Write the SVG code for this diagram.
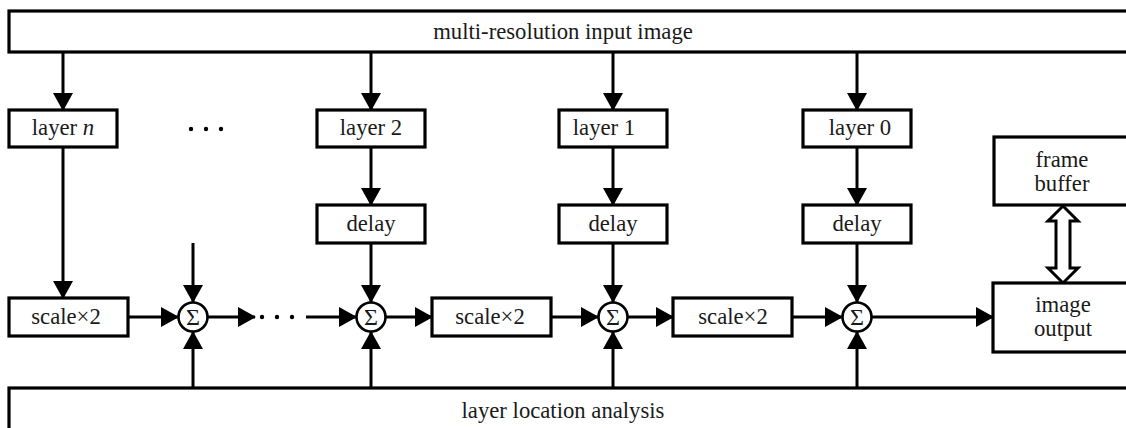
<svg xmlns="http://www.w3.org/2000/svg" width="1126" height="428" viewBox="0 0 1126 428">
<style>
.box{fill:#fff;stroke:#000;stroke-width:3.2}
.sum{fill:#fff;stroke:#000;stroke-width:2.6}
.ln{fill:none;stroke:#000;stroke-width:3}
.t{font-family:'Liberation Serif','Times New Roman',serif;font-size:22.7px;fill:#1a1a1a;text-anchor:middle}
.s{font-family:'Liberation Serif','Times New Roman',serif;font-size:24px;fill:#1a1a1a;text-anchor:middle}
.dot{fill:#000}
</style>
<defs>
<marker id="ah" viewBox="0 0 18 20" refX="17" refY="10" markerWidth="18" markerHeight="20" markerUnits="userSpaceOnUse" orient="auto">
<path d="M0,0 L18,10 L0,20 z" fill="#000"/>
</marker>
</defs>
<g id="connectors">
<path class="ln" marker-end="url(#ah)" d="M63,52 V110"/>
<path class="ln" marker-end="url(#ah)" d="M371,52 V110"/>
<path class="ln" marker-end="url(#ah)" d="M613,52 V110"/>
<path class="ln" marker-end="url(#ah)" d="M857,52 V110"/>
<path class="ln" marker-end="url(#ah)" d="M63,147 V298"/>
<path class="ln" marker-end="url(#ah)" d="M371,147 V205"/>
<path class="ln" marker-end="url(#ah)" d="M613,147 V205"/>
<path class="ln" marker-end="url(#ah)" d="M857,147 V205"/>
<path class="ln" marker-end="url(#ah)" d="M193,243 V302"/>
<path class="ln" marker-end="url(#ah)" d="M371,243 V302"/>
<path class="ln" marker-end="url(#ah)" d="M613,243 V302"/>
<path class="ln" marker-end="url(#ah)" d="M857,243 V302"/>
<path class="ln" marker-end="url(#ah)" d="M193,388 V332"/>
<path class="ln" marker-end="url(#ah)" d="M371,388 V332"/>
<path class="ln" marker-end="url(#ah)" d="M613,388 V332"/>
<path class="ln" marker-end="url(#ah)" d="M857,388 V332"/>
<path class="ln" marker-end="url(#ah)" d="M128,317 H178"/>
<path class="ln" marker-end="url(#ah)" d="M208,317 H255"/>
<path class="ln" marker-end="url(#ah)" d="M306,317 H356"/>
<path class="ln" marker-end="url(#ah)" d="M386,317 H432"/>
<path class="ln" marker-end="url(#ah)" d="M551,317 H598"/>
<path class="ln" marker-end="url(#ah)" d="M628,317 H673"/>
<path class="ln" marker-end="url(#ah)" d="M792,317 H842"/>
<path class="ln" marker-end="url(#ah)" d="M872,317 H993"/>
<polygon fill="#fff" stroke="#000" stroke-width="3" stroke-linejoin="miter" points="1063,206 1078,221 1070,221 1070,268 1078,268 1063,283 1048,268 1056,268 1056,221 1048,221"/>
<circle class="dot" cx="262" cy="317" r="2.2"/>
<circle class="dot" cx="277" cy="317" r="2.2"/>
<circle class="dot" cx="292" cy="317" r="2.2"/>
</g>
<g id="input">
<rect class="box" x="9" y="11" width="1130" height="41"/>
<text class="t" x="563" y="39">multi-resolution input image</text>
</g>
<g id="analysis">
<rect class="box" x="9" y="388" width="1130" height="60"/>
<text class="t" x="563" y="418">layer location analysis</text>
</g>
<g id="layer-n">
<rect class="box" x="9" y="110" width="108" height="37"/>
<text class="t" x="63" y="135">layer <tspan font-style="italic">n</tspan></text>
</g>
<g id="layer-dots">
<circle class="dot" cx="191" cy="129" r="2.2"/>
<circle class="dot" cx="206" cy="129" r="2.2"/>
<circle class="dot" cx="221" cy="129" r="2.2"/>
</g>
<g id="layer-2">
<rect class="box" x="317" y="110" width="108" height="37"/>
<text class="t" x="371" y="135">layer 2</text>
</g>
<g id="layer-1">
<rect class="box" x="559" y="110" width="108" height="37"/>
<text class="t" x="604" y="135">layer 1</text>
</g>
<g id="layer-0">
<rect class="box" x="803" y="110" width="108" height="37"/>
<text class="t" x="860" y="135">layer 0</text>
</g>
<g id="delay-2">
<rect class="box" x="317" y="205" width="108" height="38"/>
<text class="t" x="371" y="231">delay</text>
</g>
<g id="delay-1">
<rect class="box" x="559" y="205" width="108" height="38"/>
<text class="t" x="613" y="231">delay</text>
</g>
<g id="delay-0">
<rect class="box" x="803" y="205" width="108" height="38"/>
<text class="t" x="857" y="231">delay</text>
</g>
<g id="scale-n">
<rect class="box" x="9" y="298" width="119" height="38"/>
<text class="t" x="66" y="324">scale×2</text>
</g>
<g id="scale-2">
<rect class="box" x="432" y="298" width="119" height="38"/>
<text class="t" x="490" y="324">scale×2</text>
</g>
<g id="scale-1">
<rect class="box" x="673" y="298" width="119" height="38"/>
<text class="t" x="733" y="324">scale×2</text>
</g>
<g id="sum-n">
<circle class="sum" cx="193" cy="317" r="14.5"/>
<text class="s" x="193" y="325">Σ</text>
</g>
<g id="sum-2">
<circle class="sum" cx="371" cy="317" r="14.5"/>
<text class="s" x="371" y="325">Σ</text>
</g>
<g id="sum-1">
<circle class="sum" cx="613" cy="317" r="14.5"/>
<text class="s" x="613" y="325">Σ</text>
</g>
<g id="sum-0">
<circle class="sum" cx="857" cy="317" r="14.5"/>
<text class="s" x="857" y="325">Σ</text>
</g>
<g id="frame-buffer">
<rect class="box" x="994" y="137" width="140" height="68"/>
<text class="t" x="1062" y="167">frame</text>
<text class="t" x="1062" y="191">buffer</text>
</g>
<g id="image-output">
<rect class="box" x="993" y="283" width="140" height="69"/>
<text class="t" x="1063" y="312">image</text>
<text class="t" x="1063" y="336">output</text>
</g>
</svg>
